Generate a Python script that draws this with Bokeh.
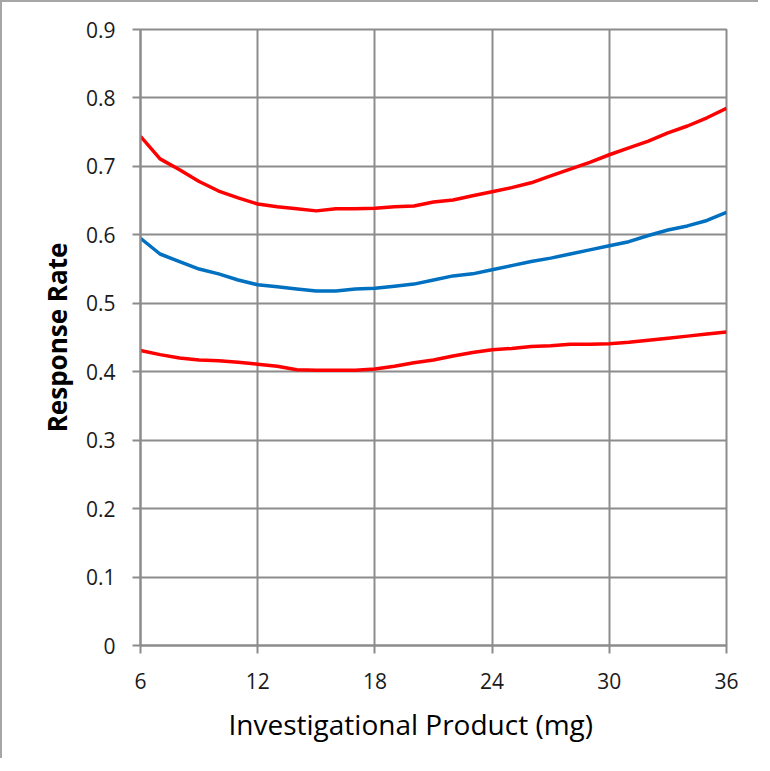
from bokeh.plotting import figure
from bokeh.models import Range1d, FixedTicker, Title
from bokeh.embed import file_html
from bokeh.resources import INLINE

# ---- data ----
dose = [6, 7, 8, 9, 10, 11, 12, 13, 14, 15, 16, 17, 18, 19, 20, 21,
        22, 23, 24, 25, 26, 27, 28, 29, 30, 31, 32, 33, 34, 35, 36]
upper = [0.744, 0.711, 0.695, 0.678, 0.664, 0.654, 0.645, 0.641, 0.638, 0.635, 0.638,
         0.638, 0.639, 0.641, 0.642, 0.648, 0.651, 0.657, 0.663, 0.669, 0.676, 0.686,
         0.696, 0.706, 0.717, 0.727, 0.737, 0.749, 0.759, 0.771, 0.785]
mid = [0.595, 0.572, 0.561, 0.550, 0.543, 0.534, 0.527, 0.524, 0.521, 0.518, 0.518,
       0.521, 0.522, 0.525, 0.528, 0.534, 0.540, 0.543, 0.549, 0.555, 0.561, 0.566,
       0.572, 0.578, 0.584, 0.590, 0.599, 0.607, 0.613, 0.621, 0.633]
lower = [0.431, 0.425, 0.420, 0.417, 0.416, 0.414, 0.411, 0.408, 0.403, 0.402, 0.402,
         0.402, 0.404, 0.408, 0.413, 0.417, 0.423, 0.428, 0.432, 0.434, 0.437, 0.438,
         0.440, 0.440, 0.441, 0.443, 0.446, 0.449, 0.452, 0.455, 0.458]

x_ticks = [6, 12, 18, 24, 30, 36]
y_ticks = [0, 0.1, 0.2, 0.3, 0.4, 0.5, 0.6, 0.7, 0.8, 0.9]
y_tick_labels = ["0", "0.1", "0.2", "0.3", "0.4", "0.5", "0.6", "0.7", "0.8", "0.9"]
x_title = "Investigational Product (mg)"
y_title = "Response Rate"

GRID = "#8c8c8c"
FONT = "Open Sans"

p = figure(width=758, height=758, output_backend="svg", toolbar_location=None,
           x_range=Range1d(6, 36), y_range=Range1d(0, 0.9),
           min_border_left=138, min_border_right=34, min_border_top=27, min_border_bottom=115)
p.styles = {"border-left": "2px solid #a6a6a6", "border-top": "2px solid #a6a6a6"}

p.outline_line_color = GRID
p.outline_line_width = 2
p.background_fill_color = "white"
p.border_fill_color = "white"

for g in (p.xgrid, p.ygrid):
    g.grid_line_color = GRID
    g.grid_line_width = 2
p.xgrid.ticker = FixedTicker(ticks=x_ticks)
p.ygrid.ticker = FixedTicker(ticks=y_ticks)

for ax in (p.xaxis, p.yaxis):
    ax.axis_line_color = GRID
    ax.axis_line_width = 2
    ax.major_tick_line_color = GRID
    ax.major_tick_line_width = 2
    ax.major_tick_out = 8
    ax.major_tick_in = 0
    ax.minor_tick_line_color = None
    ax.major_label_text_font = FONT
    ax.major_label_text_font_size = "21px"
    ax.major_label_text_color = "#1a1a1a"

p.xaxis.ticker = FixedTicker(ticks=x_ticks)
p.yaxis.ticker = FixedTicker(ticks=y_ticks)
p.yaxis.major_label_overrides = {t: s for t, s in zip(y_ticks, y_tick_labels)}
p.xaxis.major_label_standoff = 19
p.yaxis.major_label_standoff = 17

p.yaxis.axis_label = y_title
p.yaxis.axis_label_text_font = FONT
p.yaxis.axis_label_text_font_style = "bold"
p.yaxis.axis_label_text_font_size = "26px"
p.yaxis.axis_label_text_color = "black"
p.yaxis.axis_label_standoff = 8

p.line(dose, upper, line_color="#ff0000", line_width=3.5)
p.line(dose, mid, line_color="#0070c0", line_width=3.5)
p.line(dose, lower, line_color="#ff0000", line_width=3.5)

xt = Title(text=x_title, align="left", offset=88, standoff=22,
           text_font=FONT, text_font_size="28px", text_font_style="normal",
           text_color="black")
p.add_layout(xt, "below")

open("out.html", "w").write(file_html(p, INLINE))
